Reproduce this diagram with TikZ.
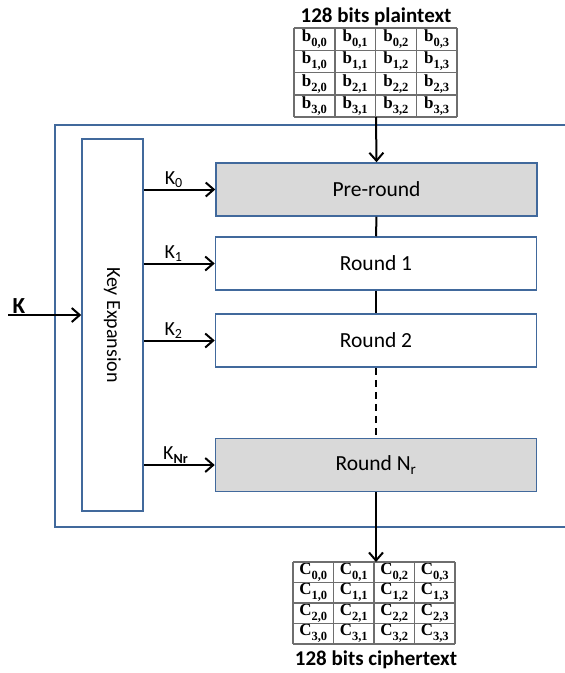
\documentclass[tikz,border=0pt]{standalone}
\usepackage{fontspec}
\setmainfont{Carlito}
\newfontfamily\cellfont{Liberation Serif}
\usetikzlibrary{arrows.meta}
\definecolor{frameblue}{HTML}{41699C}
\definecolor{roundgray}{HTML}{D9D9D9}
\definecolor{gridgray}{HTML}{6E6E6E}

% subscript for the state cells
\newcommand{\cellsub}[1]{\raisebox{-0.3em}{\fontsize{12.5}{12.5}\selectfont #1}}

\tikzset{
  roundbox/.style={draw=frameblue, line width=1.5pt, minimum width=321pt,
    minimum height=53pt, inner sep=0pt, font=\fontsize{21.5}{21.5}\selectfont},
  shaded/.style={fill=roundgray},
  keyarrow/.style={line width=2pt, -{Straight Barb[length=8pt,width=14pt,line width=2pt]}},
  flow/.style={line width=2pt},
  klabel/.style={font=\fontsize{20}{20}\selectfont, inner sep=1pt},
  cell/.style={font=\cellfont\bfseries\fontsize{17}{17}\selectfont, inner sep=0pt},
  title/.style={font=\bfseries\fontsize{21}{21}\selectfont, inner sep=0pt},
  grid/.style={draw=gridgray, line width=1.5pt}
}

\begin{document}
\begin{tikzpicture}[x=1pt, y=-1pt]
\useasboundingbox (0,0) rectangle (565,673);

% outer frame, open on the right
\draw[frameblue, line width=1.5pt] (566,125) -- (55,125) -- (55,527) -- (566,527);

% key expansion block
\node[draw=frameblue, line width=1.5pt, minimum width=61pt, minimum height=372pt,
      inner sep=0pt] (kx) at (112.5,325) {};
\node[rotate=-90, font=\fontsize{20}{20}\selectfont] (kxlabel) at (kx.center) {Key Expansion};

% round blocks
\node[roundbox, shaded] (r0) at (376.5,189.5) {Pre-round};
\node[roundbox] (r1) at (376,263.5) {Round 1};
\node[roundbox] (r2) at (376,340.5) {Round 2};
\node[roundbox, shaded] (rn) at (376,465) {Round N\textsubscript{r}};

% input key
\coordinate (kin) at (8,315);
\node[font=\bfseries\fontsize{23}{23}\selectfont, anchor=south, inner sep=0pt] (klab) at (19,313.5) {K};
\draw[keyarrow] (kin) -- (kin -| kx.west);

% round keys
\draw[keyarrow] (kx.east |- r0.west) -- node[klabel, above, pos=0.42] (k0) {K\textsubscript{0}} (r0.west);
\draw[keyarrow] (kx.east |- r1.west) -- node[klabel, above, pos=0.42] (k1) {K\textsubscript{1}} (r1.west);
\draw[keyarrow] (kx.east |- r2.west) -- node[klabel, above, pos=0.42] (k2) {K\textsubscript{2}} (r2.west);
\draw[keyarrow] (kx.east |- rn.west) -- node[klabel, above, pos=0.45] (kn) {K\textsubscript{\bfseries Nr}} (rn.west);

% plaintext state
\node[title, anchor=base] (ptitle) at (376,22.5) {128 bits plaintext};
\foreach \i in {0,...,3}{
  \foreach \j in {0,...,3}{
    \node[cell] (p-\i-\j) at ({294+40.75*(\j+0.5)},{28+22.25*(\i+0.5)}) {b\cellsub{\i,\j}};
  }
}
\foreach \k in {0,...,4}{
  \draw[grid] ({294+40.75*\k},28) -- ({294+40.75*\k},117);
  \draw[grid] (294,{28+22.25*\k}) -- (457,{28+22.25*\k});
}
\coordinate (pbot) at (376,117);

% ciphertext state
\foreach \i in {0,...,3}{
  \foreach \j in {0,...,3}{
    \node[cell] (c-\i-\j) at ({293+40.5*(\j+0.5)},{562+20.5*(\i+0.5)}) {C\cellsub{\i,\j}};
  }
}
\foreach \k in {0,...,4}{
  \draw[grid] ({293+40.5*\k},562) -- ({293+40.5*\k},644);
  \draw[grid] (293,{562+20.5*\k}) -- (455,{562+20.5*\k});
}
\coordinate (ctop) at (376,562);
\node[title] (ctitle) at (376,660) {128 bits ciphertext};

% data path
\draw[keyarrow] (pbot) -- (r0.north);
\draw[flow] (r0.south) -- (r1.north);
\draw[flow] (r1.south) -- (r2.north);
\draw[flow, dash pattern=on 7pt off 5pt] (r2.south) -- (rn.north);
\draw[keyarrow] (rn.south) -- (ctop);
\end{tikzpicture}
\end{document}
